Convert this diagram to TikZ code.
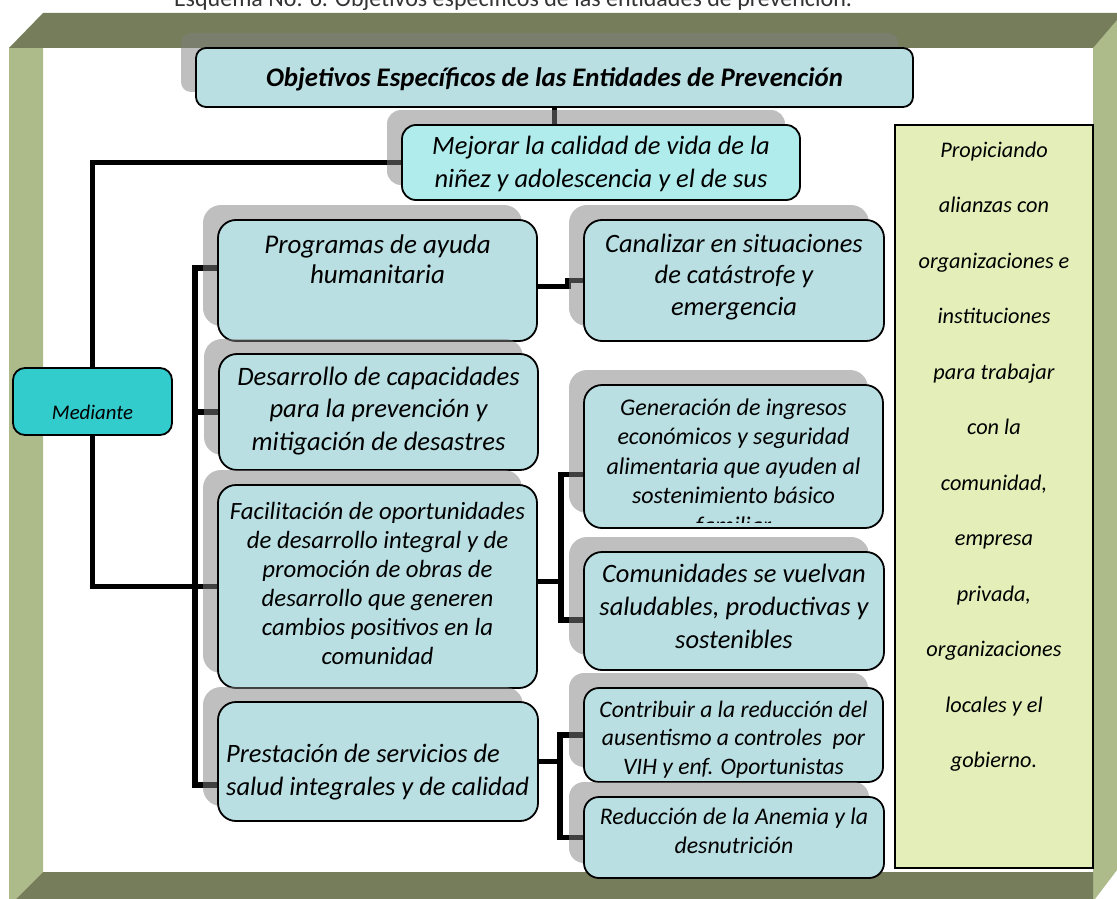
\documentclass[tikz,border=0pt]{standalone}
\usepackage{fontspec}
\setmainfont{Carlito}
\usetikzlibrary{shadows}
\pgfdeclarelayer{fondo}
\pgfsetlayers{fondo,main}
\definecolor{oliva}{HTML}{757D5B}
\definecolor{olivaclaro}{HTML}{ADBA8A}
\definecolor{celeste}{HTML}{B9DFE2}
\definecolor{aguamarina}{HTML}{B0ECEC}
\definecolor{turquesa}{HTML}{33CCCC}
\definecolor{limon}{HTML}{E3EEB9}
\newcommand{\letra}[2]{\fontsize{#1}{#2}\selectfont\itshape}

\begin{document}
\begin{tikzpicture}[x=1pt, y=-1pt,
    caja/.style={draw, line width=1.8pt, rounded corners=18pt, fill=celeste, inner sep=0pt,
        drop shadow={shadow xshift=-15pt, shadow yshift=15pt}},
    texto/.style={align=center, anchor=base, inner sep=0pt},
    enlace/.style={line width=5.5pt}]
    \useasboundingbox (0,0) rectangle (1117,899);
    % marco
    \fill[olivaclaro](9,48)--(43,48)--(43,872)--(16,899)--(9,899)--cycle;
    \fill[olivaclaro](1093,48)--(1117,20)--(1117,870)--(1095,899)--(1093,899)--cycle;
    \fill[oliva](43,13)--(1117,13)--(1117,20)--(1093,48)--(9,48)--cycle;
    \fill[oliva](43,872)--(1093,872)--(1093,899)--(16,899)--cycle;
    \node[anchor=base, inner sep=0pt, text=black!80] (esquema) at (513,7)
        {\fontsize{24}{28}\selectfont Esquema No. 6. Objetivos específicos de las entidades de prevención.};

    % cajas (texto anclado en la base de su ultima linea)
    \node[draw, line width=1.5pt, fill=limon, minimum width=198, minimum height=743, inner sep=0pt] (panel) at (994,496.5) {};
    \node[texto, font=\letra{22.3}{55.5}] (panel-t) at (994,767.5)
        {Propiciando\\alianzas con\\organizaciones e\\instituciones\\para trabajar\\con la\\comunidad,\\empresa\\privada,\\organizaciones\\locales y el\\gobierno.};

    \node[caja, rounded corners=10pt, minimum width=717, minimum height=59] (tit) at (554.5,77.5) {};
    \node[texto, font=\bfseries\itshape\fontsize{26.8}{30}\selectfont] (tit-t) at (554.5,87)
        {Objetivos Específicos de las Entidades de Prevención};

    \node[caja, fill=aguamarina, rounded corners=14pt, minimum width=398, minimum height=75] (mej) at (601,162.5) {};
    \node[texto, font=\letra{26.5}{33}] (mej-t) at (601,187) {Mejorar la calidad de vida de la\\niñez y adolescencia y el de sus};

    \node[draw, line width=1.8pt, fill=turquesa, rounded corners=12pt, minimum width=159, minimum height=67, inner sep=0pt] (med) at (92.5,401.5) {};
    \node[texto, font=\letra{20.8}{25}] (med-t) at (92.5,419) {Mediante};

    \node[caja, minimum width=319, minimum height=121] (prog) at (377.5,280.5) {};
    \node[texto, font=\letra{27}{30}] (prog-t) at (377.5,283) {Programas de ayuda\\humanitaria};

    \node[caja, minimum width=300, minimum height=121] (canal) at (734,280.5) {};
    \node[texto, font=\letra{26.5}{31.5}] (canal-t) at (734,315) {Canalizar en situaciones\\de catástrofe y\\emergencia};

    \node[caja, minimum width=319, minimum height=116] (des) at (378.5,412) {};
    \node[texto, font=\letra{26.6}{32.5}] (des-t) at (378.5,450) {Desarrollo de capacidades\\para la prevención y\\mitigación de desastres};

    \node[caja, minimum width=299, minimum height=143] (gen) at (733.5,456.5) {};
    \begin{scope}
        \clip (590,390) rectangle (878,522);
        \node[texto, font=\letra{24}{29.5}] (gen-t) at (733.5,533)
            {Generación de ingresos\\económicos y seguridad\\alimentaria que ayuden al\\sostenimiento básico\\familiar};
    \end{scope}

    \node[caja, minimum width=319, minimum height=203] (fac) at (377.5,586.5) {};
    \node[texto, font=\letra{24.8}{29}] (fac-t) at (377.5,664)
        {Facilitación de oportunidades\\de desarrollo integral y de\\promoción de obras de\\desarrollo que generen\\cambios positivos en la\\comunidad};

    \node[caja, minimum width=300, minimum height=118] (com) at (734,611) {};
    \node[texto, font=\letra{26.5}{33}] (com-t) at (734,648) {Comunidades se vuelvan\\saludables, productivas y\\sostenibles};

    \node[caja, minimum width=320, minimum height=119] (pres) at (378,761.5) {};
    \node[texto, align=left, anchor=base west, font=\letra{26.5}{33}] (pres-t) at (226,795)
        {Prestación de servicios de\\salud integrales y de calidad};

    \node[caja, rounded corners=15pt, minimum width=299, minimum height=94] (contrib) at (733.5,735) {};
    \node[texto, font=\letra{23.6}{28.5}] (contrib-t) at (733.5,774)
        {Contribuir a la reducción del\\ausentismo a controles~ por\\VIH y enf. Oportunistas};

    \node[caja, rounded corners=15pt, minimum width=300, minimum height=81] (red) at (734,837.5) {};
    \node[texto, font=\letra{23.8}{29}] (red-t) at (734,853) {Reducción de la Anemia y la\\desnutrición};

    % enlaces
    \begin{pgfonlayer}{fondo}
        \draw[enlace](tit.south)--(tit.south |- mej.north);
        \draw[enlace](mej.west)-|(med.north);
        \draw[enlace](med.south)|-(fac.west);
        \coordinate (tronco-a) at (195,268);
        \coordinate (tronco-b) at (195,785);
        \draw[enlace](prog.west |- tronco-a)--(tronco-a)--(tronco-b)--(pres.west |- tronco-b);
        \draw[enlace](tronco-a |- des.west)--(des.west);
        \draw[enlace]([yshift=-6pt]prog.east)--++(30,0)|-(canal.west);
        \coordinate (fj) at (561,581.5);
        \draw[enlace]([yshift=5pt]fac.east)--(fj);
        \draw[enlace]([yshift=-18pt]gen.west)-|(fj)|-([yshift=-9pt]com.west);
        \coordinate (pj) at (560,761.5);
        \draw[enlace](pres.east)--(pj);
        \draw[enlace](contrib.west)-|(pj)|-(red.west);
    \end{pgfonlayer}
\end{tikzpicture}
\end{document}
